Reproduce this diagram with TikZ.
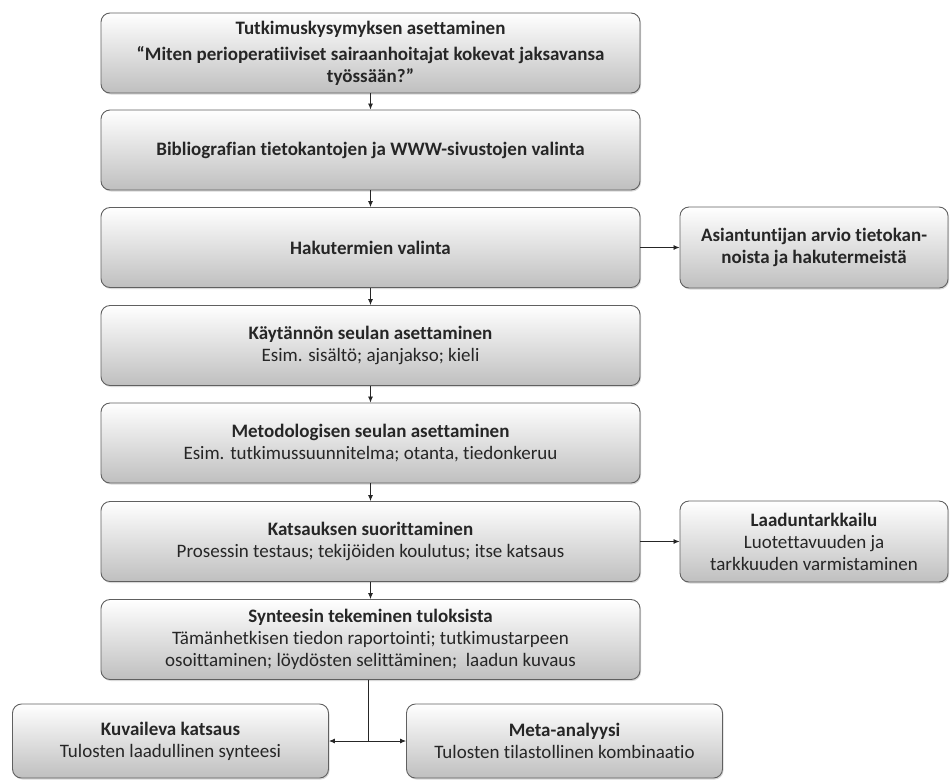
\documentclass[tikz,border=0pt]{standalone}
\usepackage{fontspec}
\setmainfont{Carlito}[Ligatures={NoCommon,NoContextual}]
\usetikzlibrary{arrows.meta, shadows}

\begin{document}
\begin{tikzpicture}[x=1pt, y=-1pt,
        laatikko/.style={draw=gray!75!black, line width=0.9pt, rounded corners=9pt,
            top color=white, bottom color=gray!50, align=center, text=black!85,
            font=\fontsize{19}{22}\selectfont, inner sep=0pt,
            drop shadow={shadow xshift=1pt, shadow yshift=-1.5pt, opacity=0.3}},
        paa/.style={laatikko, minimum width=539pt, minimum height=80pt},
        sivu/.style={laatikko, minimum width=268pt, minimum height=81pt},
        ala/.style={laatikko, minimum width=316pt, minimum height=74pt},
        nuoli/.style={-{Latex[length=6pt,width=5pt]}, line width=0.8pt, black!85}]
        \useasboundingbox (0,0) rectangle (952,780);

        \node[paa] (kysymys) at (370.5,53) {\textbf{Tutkimuskysymyksen asettaminen}\\[4pt]
            \textbf{“Miten perioperatiiviset sairaanhoitajat kokevat jaksavansa}\\
            \textbf{työssään?”}};
        \node[paa] (biblio) at (370.5,150) {\textbf{Bibliografian tietokantojen ja WWW-sivustojen valinta}};
        \node[paa] (haku) at (370.5,247.5) {\textbf{Hakutermien valinta}};
        \node[paa] (kaytanto) at (370.5,345.5) {\textbf{Käytännön seulan asettaminen}\\
            Esim. sisältö; ajanjakso; kieli};
        \node[paa] (metodi) at (370.5,443) {\textbf{Metodologisen seulan asettaminen}\\
            Esim. tutkimussuunnitelma; otanta, tiedonkeruu};
        \node[paa] (katsaus) at (370.5,541.5) {\textbf{Katsauksen suorittaminen}\\
            Prosessin testaus; tekijöiden koulutus; itse katsaus};
        \node[paa] (synteesi) at (370.5,639.5) {\textbf{Synteesin tekeminen tuloksista}\\
            Tämänhetkisen tiedon raportointi; tutkimustarpeen\\
            osoittaminen; löydösten selittäminen;\ \ laadun kuvaus};

        \node[sivu] (asiantuntija) at (814,247.5) {\textbf{Asiantuntijan arvio tietokan-}\\
            \textbf{noista ja hakutermeistä}};
        \node[sivu] (laatu) at (814,541.5) {\textbf{Laaduntarkkailu}\\
            Luotettavuuden ja\\ tarkkuuden varmistaminen};

        \node[ala] (kuvaileva) at (170.5,741) {\textbf{Kuvaileva katsaus}\\
            Tulosten laadullinen synteesi};
        \node[ala] (meta) at (564.5,741) {\textbf{Meta-analyysi}\\
            Tulosten tilastollinen kombinaatio};

        \draw[nuoli] (kysymys) -- (biblio);
        \draw[nuoli] (biblio) -- (haku);
        \draw[nuoli] (haku) -- (kaytanto);
        \draw[nuoli] (kaytanto) -- (metodi);
        \draw[nuoli] (metodi) -- (katsaus);
        \draw[nuoli] (katsaus) -- (synteesi);
        \draw[nuoli] (haku) -- (asiantuntija);
        \draw[nuoli] (katsaus) -- (laatu);

        \coordinate (haara) at (368,741);
        \draw[line width=0.8pt, black!85] (synteesi.south -| haara) -- (haara);
        \draw[nuoli] (haara) -- (kuvaileva);
        \draw[nuoli] (haara) -- (meta);
    \end{tikzpicture}
\end{document}
